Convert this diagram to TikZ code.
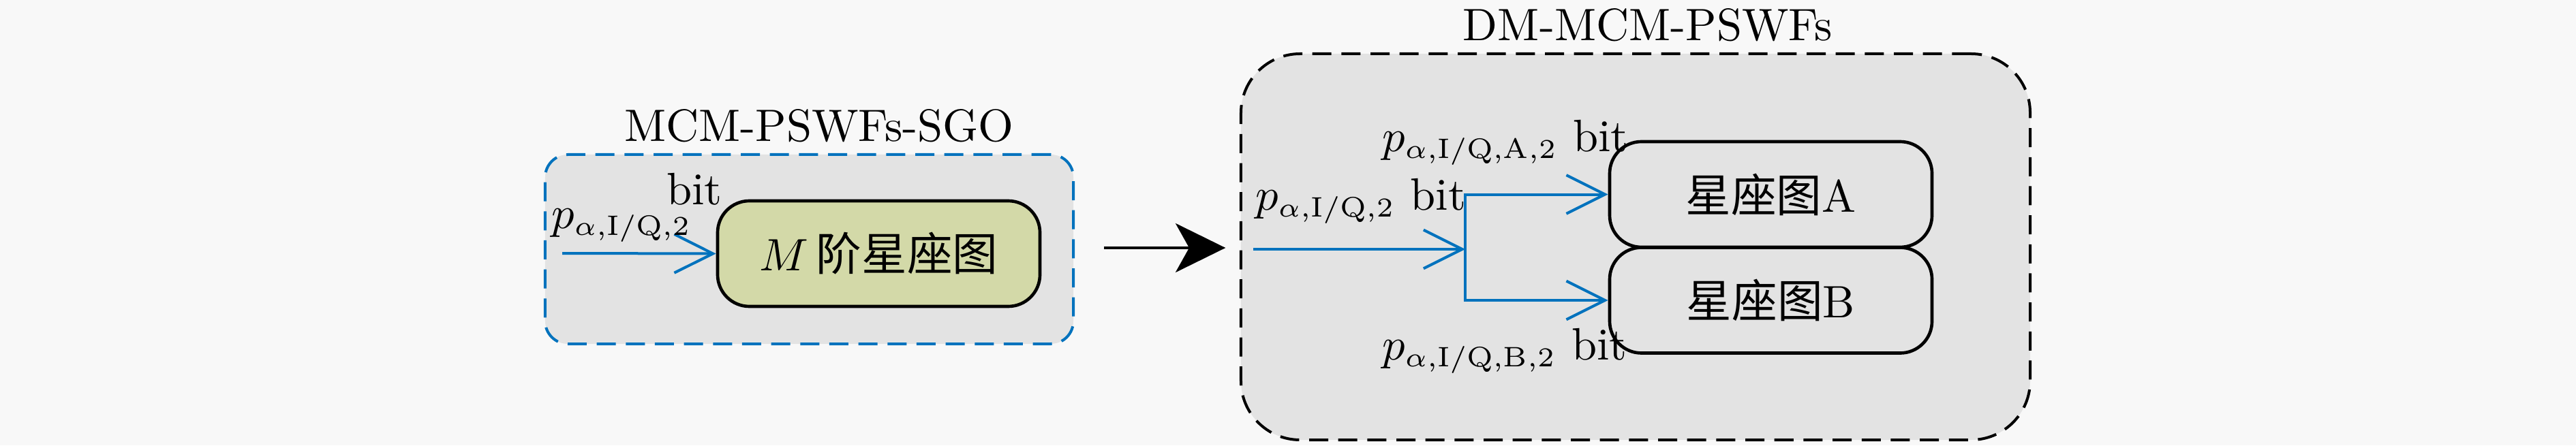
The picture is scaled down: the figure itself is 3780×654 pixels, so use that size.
\documentclass[tikz,border=0pt]{standalone}
\usepackage{fontspec}
\newfontfamily\cjk{Noto Sans CJK SC}
\DeclareMathSizes{10}{10}{6.2}{5}
\usetikzlibrary{arrows.meta}
\definecolor{bgc}{HTML}{F8F8F8}
\definecolor{boxgray}{HTML}{E3E3E3}
\definecolor{olive}{HTML}{D3D9A8}
\definecolor{lineblue}{HTML}{0072BD}
\tikzset{
  outerbox/.style={dash pattern=on 4.2pt off 2.2pt, line width=0.6pt, fill=boxgray},
  innerbox/.style={draw=black, line width=0.7pt, rounded corners=7pt,
    minimum width=70.95pt, minimum height=23.25pt, inner sep=0pt},
  blueline/.style={draw=lineblue, line width=0.6pt,
    -{Straight Barb[length=8.5pt,width=8.5pt,line width=0.6pt]}},
  lbl/.style={inner sep=0pt, anchor=base west},
}
\begin{document}
\begin{tikzpicture}[x=0.15pt,y=-0.15pt,font=\fontsize{10}{12}\selectfont]
\fill[bgc] (0,0) rectangle (3780,654);
\useasboundingbox (0,0) rectangle (3780,654);

% left group
\node[outerbox, draw=lineblue, rounded corners=5pt, minimum width=116.25pt,
  minimum height=41.7pt, inner sep=0pt] (leftbox) at (1187.5,366) {};
\node[inner sep=0pt, anchor=base] (lefttitle) at (1202,207) {MCM-PSWFs-SGO};
\node[innerbox, fill=olive] (mbox) at (1289.5,372.5) {$M$\,{\cjk 阶星座图}};
\coordinate (lin) at (825,372);
\draw[blueline] (lin) -- (mbox.west);
\node[lbl] (leftp) at (808,335) {$p_{\alpha,\mathrm{I/Q},2}$};
\node[lbl] (leftbit) at (977,300) {bit};

% right group
\node[outerbox, draw=black, rounded corners=13pt, minimum width=173.7pt,
  minimum height=85.05pt, inner sep=0pt] (rightbox) at (2400,362.5) {};
\node[inner sep=0pt, anchor=base] (righttitle) at (2418,60) {DM-MCM-PSWFs};
\node[innerbox] (boxA) at (2598.5,285.5) {{\cjk 星座图}A};
\node[innerbox] (boxB) at (2598.5,441) {{\cjk 星座图}B};
\coordinate (rin) at (1839,366);
\coordinate (junc) at (2150,366);
\draw[blueline] (rin) -- (junc);
\draw[blueline] (junc) |- (boxA.west);
\draw[blueline] (junc) |- (boxB.west);
\node[lbl] (rightp) at (1841,308) {$p_{\alpha,\mathrm{I/Q},2}$ bit};
\node[lbl] (labA) at (2027,222) {$p_{\alpha,\mathrm{I/Q,A},2}$ bit};
\node[lbl] (labB) at (2027,528) {$p_{\alpha,\mathrm{I/Q,B},2}$ bit};

% big arrow between groups
\coordinate (bigs) at (1620,364);
\draw[line width=0.6pt, -{Stealth[length=11pt,width=10.8pt,inset=3pt]},
  shorten >=3.1pt] (bigs) -- (rightbox.west |- bigs);
\end{tikzpicture}
\end{document}
